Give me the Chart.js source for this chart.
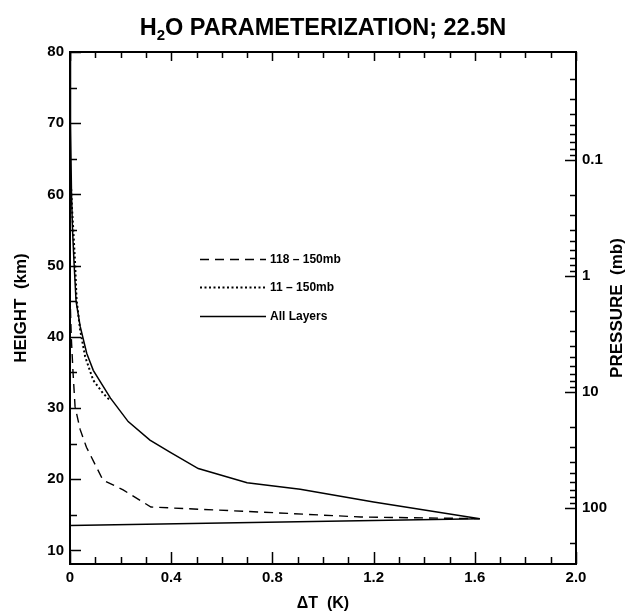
<!DOCTYPE html>
<html><head><meta charset="utf-8">
<script src="https://cdn.jsdelivr.net/npm/chart.js@4/dist/chart.umd.min.js"></script>
<style>html,body{margin:0;padding:0;background:#fff;}</style>
</head><body>
<canvas id="c" width="637" height="614"></canvas>
<script>
// ---- data ----
const allLayersX = [0, 0.002, 0.006, 0.01, 0.016, 0.024, 0.04, 0.066, 0.092, 0.16, 0.23, 0.316, 0.395, 0.507, 0.70, 0.91, 1.2, 1.62, 0];
const allLayersY = [80, 70, 60, 55, 50.4, 45, 41.5, 37.7, 35.3, 31.4, 28.1, 25.5, 23.8, 21.5, 19.5, 18.6, 16.8, 14.46, 13.5];
const dashX = [0, 0.005, 0.012, 0.02, 0.04, 0.065, 0.13, 0.21, 0.32, 0.75, 1.15, 1.62];
const dashY = [46, 40, 35, 30.2, 27, 24.5, 19.9, 18.5, 16.1, 15.4, 14.7, 14.46];
const dotX = [0.003, 0.008, 0.013, 0.02, 0.026, 0.04, 0.06, 0.092, 0.13, 0.16];
const dotY = [62, 58, 55, 50.4, 45.2, 41, 37.2, 33.9, 32.1, 31.0];
const seriesNames = ['118 \u2013 150mb', '11 \u2013 150mb', 'All Layers'];

// ---- ticks ----
const xTicks = [0,0.1,0.2,0.3,0.4,0.5,0.6,0.7,0.8,0.9,1.0,1.1,1.2,1.3,1.4,1.5,1.6,1.7,1.8,1.9,2.0];
const xMajor = [0, 0.4, 0.8, 1.2, 1.6, 2.0];
const xMajorLabels = ['0', '0.4', '0.8', '1.2', '1.6', '2.0'];
const hTicks = [10,15,20,25,30,35,40,45,50,55,60,65,70,75,80];
const hMajor = [10,20,30,40,50,60,70,80];
const hMajorLabels = ['10','20','30','40','50','60','70','80'];
const pTicks = [0.02,0.03,0.04,0.05,0.06,0.07,0.08,0.09,0.1,0.2,0.3,0.4,0.5,0.6,0.7,0.8,0.9,1,2,3,4,5,6,7,8,9,10,20,30,40,50,60,70,80,90,100,200];
const pMajor = [0.1, 1, 10, 100];
const pMajorLabels = ['0.1', '1', '10', '100'];

const title = ['H', '2', 'O PARAMETERIZATION; 22.5N'];
const xTitle = '\u0394T  (K)';
const yTitle = 'HEIGHT  (km)';
const pTitle = 'PRESSURE  (mb)';

const FONT = "'Liberation Sans', Arial, sans-serif";
const idxIn = (arr, v) => arr.findIndex(m => Math.abs(m - v) < 1e-9 * Math.max(1, Math.abs(m)));
const pts = (xs, ys) => xs.map((x, i) => ({x, y: ys[i]}));

const decor = {
  id: 'decor',
  afterDraw(chart) {
    const ctx = chart.ctx, a = chart.chartArea;
    const xs = chart.scales.x, ys = chart.scales.y, ps = chart.scales.p;
    ctx.save();
    ctx.strokeStyle = '#000';
    ctx.lineWidth = 1.5;
    ctx.beginPath();
    xTicks.forEach(v => {
      const px = Math.round(xs.getPixelForValue(v)) + 0.5;
      const maj = idxIn(xMajor, v) >= 0;
      ctx.moveTo(px, a.bottom); ctx.lineTo(px, a.bottom - (maj ? 12 : 7));
      ctx.moveTo(px, a.top); ctx.lineTo(px, a.top + (maj ? 9 : 6));
    });
    hTicks.forEach(v => {
      const py = Math.round(ys.getPixelForValue(v)) + 0.5;
      const maj = idxIn(hMajor, v) >= 0;
      ctx.moveTo(a.left, py); ctx.lineTo(a.left + (maj ? 11 : 7), py);
    });
    pTicks.forEach(v => {
      const py = Math.round(ps.getPixelForValue(v)) + 0.5;
      const maj = idxIn(pMajor, v) >= 0;
      ctx.moveTo(a.right, py); ctx.lineTo(a.right - (maj ? 11 : 6), py);
    });
    ctx.stroke();
    ctx.lineWidth = 2;
    ctx.strokeRect(a.left, a.top, a.right - a.left, a.bottom - a.top);

    // title with subscript
    ctx.fillStyle = '#000';
    ctx.textBaseline = 'alphabetic';
    ctx.textAlign = 'left';
    const big = 'bold 23.5px ' + FONT, small = 'bold 15px ' + FONT;
    ctx.font = big; const w0 = ctx.measureText(title[0]).width, w2 = ctx.measureText(title[2]).width;
    ctx.font = small; const w1 = ctx.measureText(title[1]).width;
    let tx = (a.left + a.right) / 2 - (w0 + w1 + w2) / 2;
    const by = 35;
    ctx.font = big; ctx.fillText(title[0], tx, by); tx += w0;
    ctx.font = small; ctx.fillText(title[1], tx, by + 5); tx += w1;
    ctx.font = big; ctx.fillText(title[2], tx, by);

    // axis titles
    ctx.textAlign = 'center'; ctx.textBaseline = 'middle';
    ctx.font = 'bold 16px ' + FONT;
    ctx.fillText(xTitle, (a.left + a.right) / 2, 604);
    ctx.font = 'bold 17px ' + FONT;
    ctx.save(); ctx.translate(21, (a.top + a.bottom) / 2); ctx.rotate(-Math.PI / 2); ctx.fillText(yTitle, 0, 0); ctx.restore();
    ctx.save(); ctx.translate(617, (a.top + a.bottom) / 2); ctx.rotate(-Math.PI / 2); ctx.fillText(pTitle, 0, 0); ctx.restore();

    // legend
    const rows = [259, 287, 316];
    ctx.font = 'bold 12px ' + FONT;
    ctx.textAlign = 'left';
    [0, 1, 2].forEach((di, r) => {
      const ds = chart.data.datasets[di];
      ctx.beginPath();
      ctx.setLineDash(ds.borderDash || []);
      ctx.lineWidth = ds.borderWidth;
      ctx.moveTo(200, rows[r] + 0.5); ctx.lineTo(266, rows[r] + 0.5);
      ctx.stroke();
      ctx.setLineDash([]);
      ctx.fillText(ds.label, 270, rows[r] + 1);
    });
    ctx.restore();
  }
};

const tickFont = {family: FONT, weight: 'bold', size: 15};
new Chart(document.getElementById('c'), {
  type: 'scatter',
  data: {
    datasets: [
      {label: seriesNames[0], data: pts(dashX, dashY), showLine: true, borderColor: '#000', borderWidth: 1.4, borderDash: [9, 6], pointRadius: 0, tension: 0},
      {label: seriesNames[1], data: pts(dotX, dotY), showLine: true, borderColor: '#000', borderWidth: 2, borderDash: [2, 2.5], pointRadius: 0, tension: 0},
      {label: seriesNames[2], data: pts(allLayersX, allLayersY), showLine: true, borderColor: '#000', borderWidth: 1.5, pointRadius: 0, tension: 0}
    ]
  },
  options: {
    responsive: false,
    animation: false,
    devicePixelRatio: 1,
    layout: {padding: {top: 52, left: 0, right: 0, bottom: 0}},
    plugins: {legend: {display: false}, tooltip: {enabled: false}, title: {display: false}},
    scales: {
      x: {
        type: 'linear', min: 0, max: 2.0, position: 'bottom',
        grid: {display: false, drawTicks: false}, border: {display: false},
        afterBuildTicks: s => { s.ticks = xTicks.map(v => ({value: v})); },
        afterFit: s => { s.height = 50; },
        ticks: {autoSkip: false, maxRotation: 0, padding: 5, color: '#000', font: tickFont,
          callback: v => { const i = idxIn(xMajor, v); return i >= 0 ? xMajorLabels[i] : ''; }}
      },
      y: {
        type: 'linear', min: 8.1, max: 80, position: 'left',
        grid: {display: false, drawTicks: false}, border: {display: false},
        afterBuildTicks: s => { s.ticks = hTicks.map(v => ({value: v})); },
        afterFit: s => { s.width = 70; },
        ticks: {autoSkip: false, padding: 6, color: '#000', font: tickFont,
          callback: v => { const i = idxIn(hMajor, v); return i >= 0 ? hMajorLabels[i] : ''; }}
      },
      p: {
        type: 'logarithmic', min: 0.01172, max: 304, reverse: true, position: 'right',
        grid: {display: false, drawTicks: false}, border: {display: false},
        afterBuildTicks: s => { s.ticks = pTicks.map(v => ({value: v})); },
        afterFit: s => { s.width = 61; },
        ticks: {autoSkip: false, padding: 6, color: '#000', font: tickFont,
          callback: v => { const i = idxIn(pMajor, v); return i >= 0 ? pMajorLabels[i] : ''; }}
      }
    }
  },
  plugins: [decor]
});
</script>
</body></html>
